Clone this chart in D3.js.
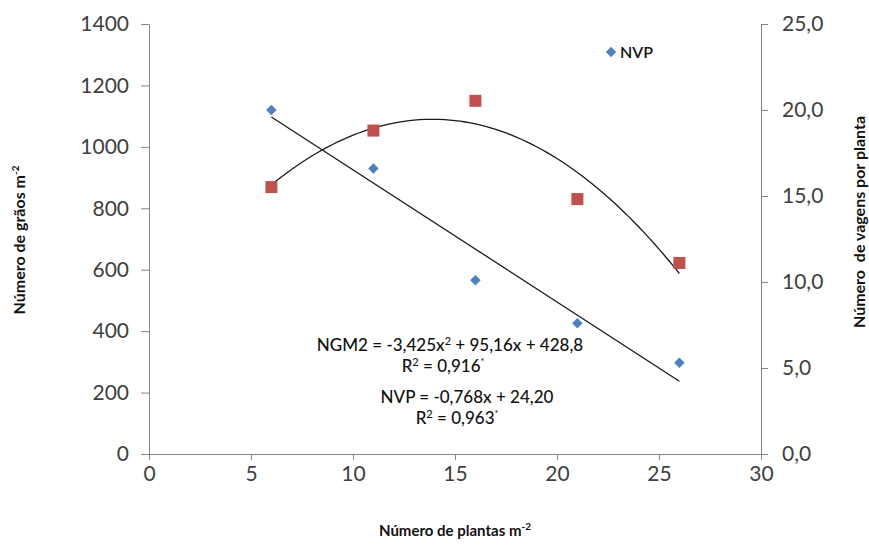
<!DOCTYPE html>
<html>
<head>
<meta charset="utf-8">
<script src="https://cdn.jsdelivr.net/npm/d3@7"></script>
<style>
    body { margin: 0; background: #fff; }
    svg text { font-family: Lato, "Open Sans", sans-serif; }
</style>
</head>
<body>
<div id="chart"></div>
<script>
    var plantas = [6, 11, 16, 21, 26];
    var ngm2 = [869, 1053, 1150, 830, 622];
    var nvp = [20.0, 16.6, 10.1, 7.6, 5.3];

    var xTicks = [0, 5, 10, 15, 20, 25, 30];
    var leftTicks = [0, 200, 400, 600, 800, 1000, 1200, 1400];
    var rightTicks = [0, 5, 10, 15, 20, 25];

    // regression coefficients printed on the chart
    var ngmFit = [-3.425, 95.16, 428.8];
    var nvpFit = [-0.768, 24.20];

    var width = 869, height = 547;
    var axisColor = "#868686";
    var labelColor = "#404040";
    var blue = "#4F81BD", red = "#C0504D";

    var svg = d3.select("#chart").append("svg")
        .attr("width", width)
        .attr("height", height);

    var x = d3.scaleLinear().domain([0, 30]).range([149, 761]);
    var yL = d3.scaleLinear().domain([0, 1400]).range([454, 24]);
    var yR = d3.scaleLinear().domain([0, 25]).range([454, 24]);

    function styleAxis(g) {
        g.select(".domain").attr("stroke", axisColor);
        g.selectAll(".tick line").attr("stroke", axisColor);
        g.selectAll(".tick text")
            .attr("fill", labelColor)
            .style("font-size", "21px")
            .style("font-family", "Lato, sans-serif");
    }

    svg.append("g")
        .attr("transform", "translate(0," + yL(0) + ")")
        .call(d3.axisBottom(x).tickValues(xTicks).tickSize(6).tickPadding(6).tickSizeOuter(0))
        .call(styleAxis);

    svg.append("g")
        .attr("transform", "translate(" + x(0) + ",0)")
        .call(d3.axisLeft(yL).tickValues(leftTicks).tickSize(8).tickPadding(12).tickSizeOuter(0)
            .tickFormat(d3.format("d")))
        .call(styleAxis);

    svg.append("g")
        .attr("transform", "translate(" + x(30) + ",0)")
        .call(d3.axisRight(yR).tickValues(rightTicks).tickSize(7).tickPadding(14).tickSizeOuter(0)
            .tickFormat(function(d) { return d3.format(".1f")(d).replace(".", ","); }))
        .call(styleAxis);

    // trend lines
    var xs = d3.range(plantas[0], plantas[plantas.length - 1] + 0.01, 0.25);

    svg.append("path")
        .datum(xs)
        .attr("fill", "none")
        .attr("stroke", "#1a1a1a")
        .attr("stroke-width", 1.3)
        .attr("d", d3.line()
            .x(function(d) { return x(d); })
            .y(function(d) { return yL(ngmFit[0] * d * d + ngmFit[1] * d + ngmFit[2]); }));

    svg.append("path")
        .datum([plantas[0], plantas[plantas.length - 1]])
        .attr("fill", "none")
        .attr("stroke", "#1a1a1a")
        .attr("stroke-width", 1.3)
        .attr("d", d3.line()
            .x(function(d) { return x(d); })
            .y(function(d) { return yR(nvpFit[0] * d + nvpFit[1]); }));

    // points
    svg.append("g").selectAll("rect")
        .data(plantas)
        .enter().append("rect")
        .attr("x", function(d) { return x(d) - 6; })
        .attr("y", function(d, i) { return yL(ngm2[i]) - 6; })
        .attr("width", 12)
        .attr("height", 12)
        .attr("fill", red);

    var diamond = d3.symbol().type(d3.symbolDiamond2).size(70);

    svg.append("g").selectAll("path")
        .data(plantas)
        .enter().append("path")
        .attr("d", diamond)
        .attr("transform", function(d, i) {
            return "translate(" + x(d) + "," + yR(nvp[i]) + ")";
        })
        .attr("fill", blue);

    // legend
    svg.append("path")
        .attr("d", diamond)
        .attr("transform", "translate(611,52)")
        .attr("fill", blue);
    svg.append("text")
        .attr("x", 620)
        .attr("y", 58)
        .style("font-size", "16px")
        .style("font-weight", "600")
        .attr("fill", "#111")
        .text("NVP");

    // equations
    function eqText(cx, cy, parts) {
        var t = svg.append("text")
            .attr("x", cx)
            .attr("y", cy)
            .attr("text-anchor", "middle")
            .style("font-size", "17px")
            .style("font-weight", "500")
            .attr("fill", "#111");
        parts.forEach(function(p) {
            var s = t.append("tspan").text(p[0]);
            if (p[1]) s.attr("dy", p[1]).style("font-size", p[2]);
        });
    }

    eqText(450, 351, [["NGM2 = -3,425x"], ["2", "-6", "11px"], [" + 95,16x + 428,8", "6", "17px"]]);
    eqText(443, 372, [["R"], ["2", "-6", "11px"], [" = 0,916", "6", "17px"], ["*", "-7", "9px"]]);
    eqText(467, 403, [["NVP = -0,768x + 24,20"]]);
    eqText(457, 424, [["R"], ["2", "-6", "11px"], [" = 0,963", "6", "17px"], ["*", "-7", "9px"]]);

    // axis titles
    svg.append("text")
        .attr("transform", "translate(25,240)rotate(-90)")
        .attr("text-anchor", "middle")
        .style("font-size", "16px")
        .style("font-weight", "bold")
        .attr("fill", "#111")
        .text("Número de grãos m")
        .append("tspan").attr("dy", "-6").style("font-size", "10px").text("-2");

    svg.append("text")
        .attr("transform", "translate(865,222)rotate(-90)")
        .attr("text-anchor", "middle")
        .style("font-size", "16px")
        .style("font-weight", "bold")
        .attr("fill", "#111")
        .attr("xml:space", "preserve")
        .text("Número  de vagens por planta");

    svg.append("text")
        .attr("x", 455)
        .attr("y", 536)
        .attr("text-anchor", "middle")
        .style("font-size", "15px")
        .style("font-weight", "bold")
        .attr("fill", "#111")
        .text("Número de plantas m")
        .append("tspan").attr("dy", "-6").style("font-size", "10px").text("-2");
</script>
</body>
</html>
